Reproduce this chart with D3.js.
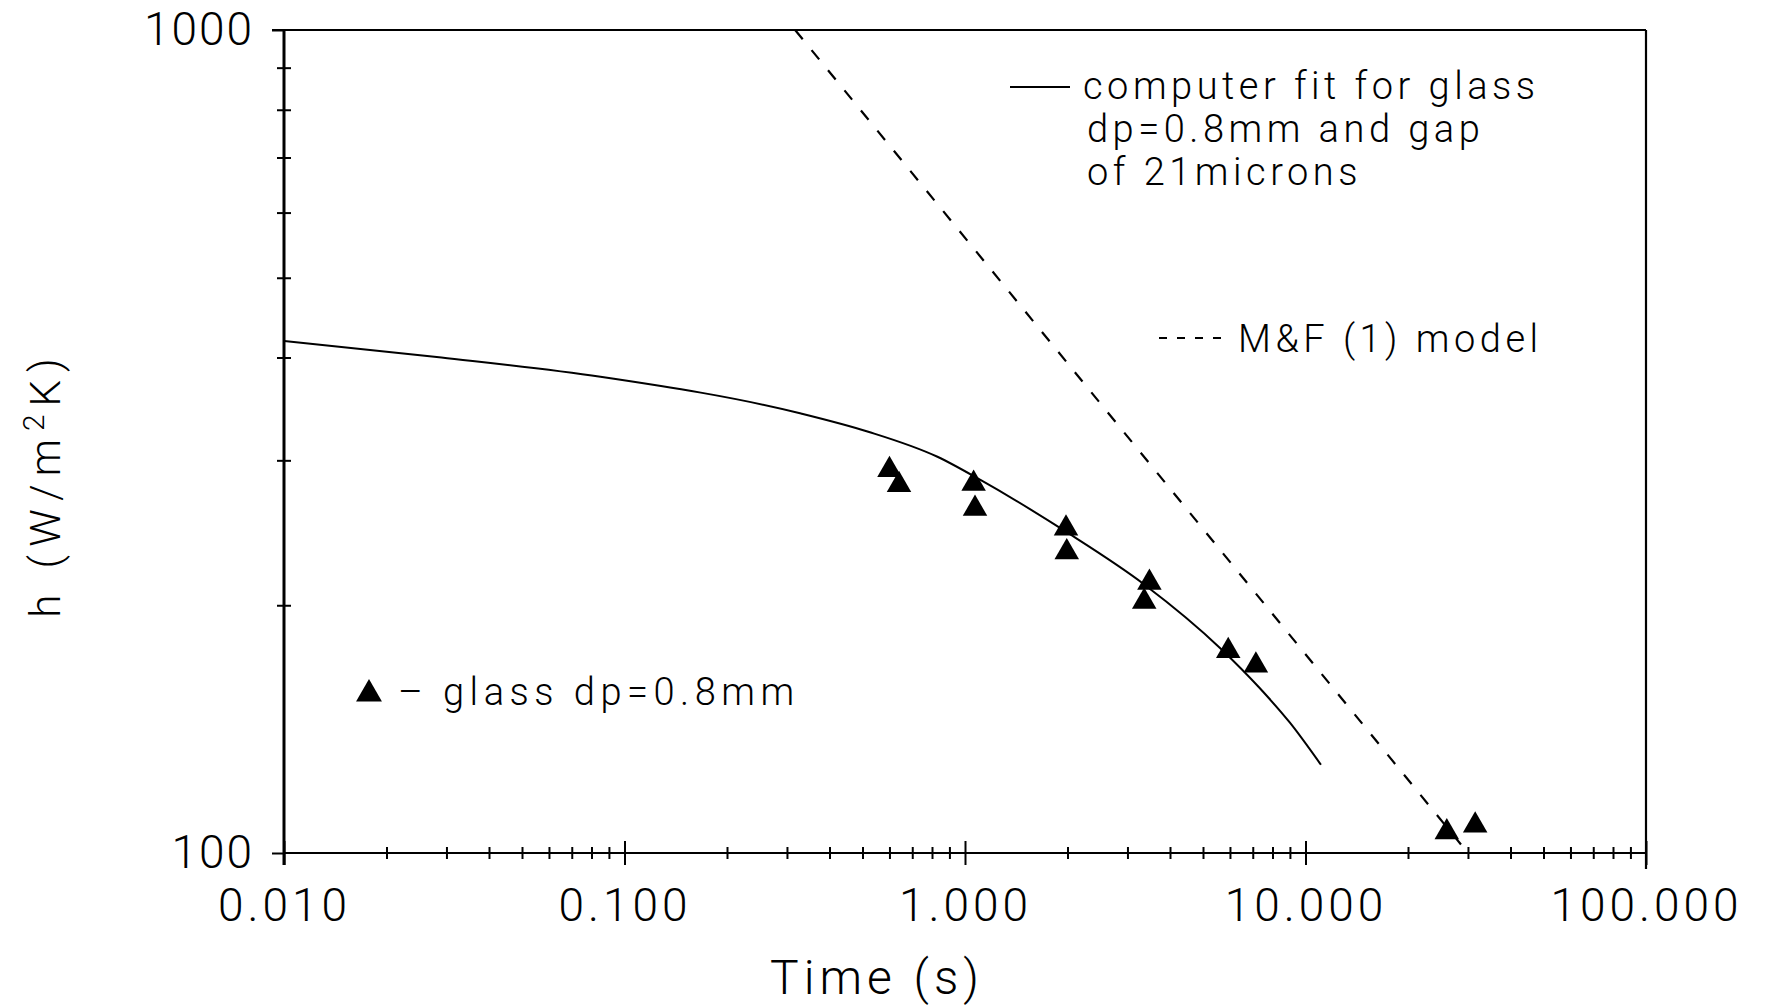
<!DOCTYPE html>
<html lang="en">
<head>
<meta charset="UTF-8">
<title>h vs time</title>
<style>
  body { margin: 0; background: #fff; }
  svg { display: block; }
  text { font-family: Roboto, "Liberation Sans", sans-serif; font-weight: 300; fill: #000; }
</style>
</head>
<body>
<svg></svg>
<script src="https://d3js.org/d3.v7.min.js"></script>
<script>
// measured points, glass dp=0.8mm
const glassTime = [0.60, 0.64, 1.06, 1.07, 1.98, 1.99, 3.48, 3.36, 5.93, 7.15, 26.0, 31.5];
const glassH    = [292, 280, 281, 262, 248, 232, 213, 202, 176, 169, 106, 108];

// computer fit (solid)
const fitTime = [0.01, 0.029, 0.085, 0.33, 0.52, 0.83, 1.11, 2.0, 3.36, 5.65, 7.3, 9.0, 11.1];
const fitH    = [419, 400, 379, 342, 325, 303, 284, 245, 212, 177, 159, 144, 128];

// M&F (1) model (dashed)
const mfTime = [0.317, 30.0];
const mfH    = [1000, 100];

const xTickValues = [0.01, 0.1, 1, 10, 100];
const xTickLabels = ['0.010', '0.100', '1.000', '10.000', '100.000'];
const yTickValues = [100, 1000];
const yTickLabels = ['100', '1000'];

const W = 1765, H = 1006;
const margin = { top: 30, right: 119, bottom: 153, left: 284 };
const width = W - margin.left - margin.right;
const height = H - margin.top - margin.bottom;

const x = d3.scaleLog().domain([0.01, 100]).range([0, width]);
const y = d3.scaleLog().domain([100, 1000]).range([height, 0]);

const svg = d3.select('svg').attr('width', W).attr('height', H);
const g = svg.append('g').attr('transform', `translate(${margin.left},${margin.top})`);

// minor ticks (crossing the axis)
const xMinor = x.ticks().filter(d => !xTickValues.some(v => Math.abs(v - d) < 1e-9));
const yMinor = y.ticks().filter(d => !yTickValues.includes(d));

const xMinorAxis = g.append('g')
  .attr('transform', `translate(0,${height})`)
  .call(d3.axisBottom(x).tickValues(xMinor).tickSize(6).tickFormat(''));
xMinorAxis.select('.domain').remove();
xMinorAxis.selectAll('line').attr('y1', -6).attr('stroke-width', 2);

const yMinorAxis = g.append('g')
  .call(d3.axisLeft(y).tickValues(yMinor).tickSize(7).tickFormat(''));
yMinorAxis.select('.domain').remove();
yMinorAxis.selectAll('line').attr('x1', 7).attr('stroke-width', 2);

// major ticks + labels
const xAxis = g.append('g')
  .attr('transform', `translate(0,${height})`)
  .call(d3.axisBottom(x).tickValues(xTickValues).tickSize(12).tickPadding(23)
    .tickFormat((d, i) => xTickLabels[i]));
xAxis.select('.domain').remove();
xAxis.selectAll('line').attr('y1', -12).attr('stroke-width', 2);
xAxis.selectAll('text')
  .attr('font-family', null).attr('font-size', 46)
  .style('letter-spacing', '4px');

const yAxis = g.append('g')
  .call(d3.axisLeft(y).tickValues(yTickValues).tickSize(12).tickPadding(18)
    .tickFormat((d, i) => yTickLabels[i]));
yAxis.select('.domain').remove();
yAxis.selectAll('line').attr('stroke-width', 2);
yAxis.selectAll('text')
  .attr('font-family', null).attr('font-size', 46)
  .style('letter-spacing', '2px');

// frame
g.append('line').attr('x1', 0).attr('x2', width).attr('y1', height).attr('y2', height)
  .attr('stroke', '#000').attr('stroke-width', 2.2);
g.append('line').attr('x1', -12).attr('x2', width).attr('y1', 0).attr('y2', 0)
  .attr('stroke', '#000').attr('stroke-width', 2.2);
g.append('line').attr('x1', 0).attr('x2', 0).attr('y1', 0).attr('y2', height + 12)
  .attr('stroke', '#000').attr('stroke-width', 3);
g.append('line').attr('x1', width).attr('x2', width).attr('y1', 0).attr('y2', height + 16)
  .attr('stroke', '#000').attr('stroke-width', 2.2);

// curves
const line = d3.line().x(d => x(d[0])).y(d => y(d[1]));

g.append('path')
  .datum(fitTime.map((t, i) => [t, fitH[i]]))
  .attr('d', line.curve(d3.curveMonotoneX))
  .attr('fill', 'none').attr('stroke', '#000').attr('stroke-width', 2);

g.append('path')
  .datum(mfTime.map((t, i) => [t, mfH[i]]))
  .attr('d', d3.line().x(d => x(d[0])).y(d => y(d[1])))
  .attr('fill', 'none').attr('stroke', '#000').attr('stroke-width', 2.2)
  .attr('stroke-dasharray', '12,14');

// data points
const tri = d3.symbol(d3.symbolTriangle, 260);
g.selectAll('.pt')
  .data(glassTime.map((t, i) => [t, glassH[i]]))
  .join('path')
  .attr('class', 'pt')
  .attr('transform', d => `translate(${x(d[0])},${y(d[1])})`)
  .attr('d', tri)
  .attr('fill', '#000');

// legends
const leg = svg.append('g');
leg.append('line').attr('x1', 1010).attr('x2', 1070).attr('y1', 87).attr('y2', 87)
  .attr('stroke', '#000').attr('stroke-width', 2);
const fitLines = ['computer fit for glass', 'dp=0.8mm and gap', 'of 21microns'];
leg.selectAll('.fitlab')
  .data(fitLines)
  .join('text')
  .attr('class', 'fitlab')
  .attr('x', (d, i) => i === 0 ? 1083 : 1087)
  .attr('y', (d, i) => 99 + i * 43)
  .attr('font-size', 38)
  .style('letter-spacing', '4.5px')
  .text(d => d);

leg.append('line').attr('x1', 1159).attr('x2', 1230).attr('y1', 338).attr('y2', 338)
  .attr('stroke', '#000').attr('stroke-width', 2).attr('stroke-dasharray', '8,10');
leg.append('text').attr('x', 1238).attr('y', 352)
  .attr('font-size', 38).style('letter-spacing', '4.5px')
  .text('M&F (1) model');

leg.append('path')
  .attr('transform', 'translate(369,694)')
  .attr('d', d3.symbol(d3.symbolTriangle, 290)).attr('fill', '#000');
leg.append('text').attr('x', 398).attr('y', 705)
  .attr('font-size', 38).style('letter-spacing', '5.5px')
  .text('– glass dp=0.8mm');

// axis titles
svg.append('text')
  .attr('x', 877).attr('y', 994)
  .attr('text-anchor', 'middle')
  .attr('font-size', 48).style('letter-spacing', '5px')
  .text('Time (s)');

const yl = svg.append('text')
  .attr('transform', 'translate(60,484) rotate(-90)')
  .attr('text-anchor', 'middle')
  .attr('font-size', 42).style('letter-spacing', '8px');
yl.append('tspan').text('h (W/m');
yl.append('tspan').attr('font-size', 30).attr('dy', -16).text('2');
yl.append('tspan').attr('dy', 16).text('K)');
</script>
</body>
</html>
